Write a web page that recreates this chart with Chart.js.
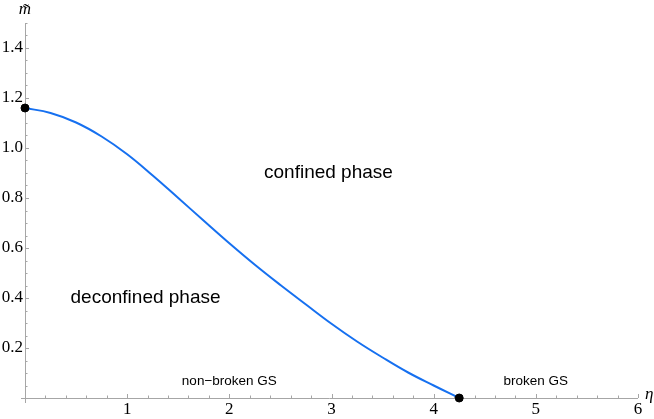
<!DOCTYPE html>
<html>
<head>
<meta charset="utf-8">
<script src="https://cdn.jsdelivr.net/npm/chart.js@4.4.1/dist/chart.umd.min.js"></script>
<style>
  html, body { margin: 0; padding: 0; background: #fff; }
  canvas { display: block; }
</style>
</head>
<body>
<canvas id="phase" width="654" height="419"></canvas>
<script>
// phase boundary m~(eta)
const eta = [0, 0.25, 0.5, 0.75, 1.0, 1.25, 1.5, 1.75, 2.0, 2.25, 2.5, 2.75, 3.0, 3.25, 3.5, 3.75, 4.0, 4.25];
const mTilde = [1.16, 1.14, 1.102, 1.046, 0.975, 0.89, 0.80, 0.709, 0.619, 0.533, 0.452, 0.374, 0.297, 0.226, 0.162, 0.102, 0.05, 0];

// end points of the boundary
const endEta = [0, 4.25];
const endM = [1.16, 0];

// tick labels
const xTickLabels = [1, 2, 3, 4, 5, 6];
const yTickLabels = [0.2, 0.4, 0.6, 0.8, 1.0, 1.2, 1.4];

// region labels [text, eta, m, fontSize]
const regionLabels = [
    ['confined phase', 2.97, 0.9, 19],
    ['deconfined phase', 1.18, 0.4, 19],
    ['non\u2212broken GS', 2.0, 0.068, 13.5],
    ['broken GS', 5.0, 0.068, 13.5],
];

const AXIS_GRAY = '#a6a6a6';
const SANS = '"Liberation Sans", Arial, sans-serif';
const SERIF = '"Liberation Serif", "Times New Roman", serif';

const mathematicaAxes = {
    id: 'mathematicaAxes',
    beforeDatasetsDraw(chart) {
        const { ctx, chartArea } = chart;
        const x = chart.scales.x;
        const y = chart.scales.y;
        const x0 = x.getPixelForValue(0);
        const y0 = y.getPixelForValue(0);
        ctx.save();
        ctx.strokeStyle = AXIS_GRAY;
        ctx.lineWidth = 1;
        ctx.beginPath();
        ctx.moveTo(x0 - 4, y0 + 0.5);
        ctx.lineTo(chartArea.right, y0 + 0.5);
        ctx.moveTo(x0 + 0.5, y0 + 5);
        ctx.lineTo(x0 + 0.5, chartArea.top);
        // ticks on eta axis, every 0.2, major on integers
        for (let i = 1; i <= 30; i++) {
            const px = Math.round(x.getPixelForValue(i * 0.2)) + 0.5;
            const len = i % 5 === 0 ? 4 : 2.5;
            ctx.moveTo(px, y0);
            ctx.lineTo(px, y0 - len);
        }
        // ticks on m axis, every 0.05, major on 0.2
        for (let i = 1; i <= 30; i++) {
            const py = Math.round(y.getPixelForValue(i * 0.05)) + 0.5;
            const len = i % 4 === 0 ? 4 : 2.5;
            ctx.moveTo(x0, py);
            ctx.lineTo(x0 + len, py);
        }
        ctx.stroke();
        ctx.restore();
    },
    afterDraw(chart) {
        const { ctx, chartArea } = chart;
        const x = chart.scales.x;
        const y = chart.scales.y;
        ctx.save();
        ctx.fillStyle = '#000';
        ctx.textAlign = 'center';
        ctx.textBaseline = 'middle';
        regionLabels.forEach(([text, ex, my, size]) => {
            ctx.font = size + 'px ' + SANS;
            ctx.fillText(text, x.getPixelForValue(ex), y.getPixelForValue(my));
        });
        ctx.font = 'italic 17px ' + SERIF;
        ctx.fillText('m\u0303', x.getPixelForValue(0), chartArea.top - 13);
        ctx.textAlign = 'left';
        ctx.fillText('\u03b7', chartArea.right + 7, y.getPixelForValue(0) - 3);
        ctx.restore();
    },
};

new Chart(document.getElementById('phase'), {
    type: 'scatter',
    data: {
        datasets: [
            {
                data: eta.map((e, i) => ({ x: e, y: mTilde[i] })),
                showLine: true,
                borderColor: 'rgb(22,112,240)',
                borderWidth: 2,
                pointRadius: 0,
                tension: 0.4,
                order: 2,
            },
            {
                data: endEta.map((e, i) => ({ x: e, y: endM[i] })),
                backgroundColor: '#000',
                borderColor: '#000',
                pointRadius: 4,
                clip: false,
                order: 1,
            },
        ],
    },
    plugins: [mathematicaAxes],
    options: {
        responsive: false,
        animation: false,
        devicePixelRatio: 1,
        layout: {
            padding: { top: 23, right: 16, left: 0, bottom: 0 },
        },
        scales: {
            x: {
                type: 'linear',
                min: 0,
                max: 6,
                afterFit: s => { s.height = 21; },
                afterBuildTicks: s => { s.ticks = xTickLabels.map(v => ({ value: v })); },
                grid: { display: false, drawTicks: false },
                border: { display: false },
                ticks: {
                    padding: 1,
                    maxRotation: 0,
                    autoSkip: false,
                    color: '#000',
                    font: { family: SERIF, size: 17 },
                    callback: v => String(v),
                },
            },
            y: {
                type: 'linear',
                min: 0,
                max: 1.5,
                afterFit: s => { s.width = 25; },
                afterBuildTicks: s => { s.ticks = yTickLabels.map(v => ({ value: v })); },
                grid: { display: false, drawTicks: false },
                border: { display: false },
                ticks: {
                    padding: 2,
                    autoSkip: false,
                    color: '#000',
                    font: { family: SERIF, size: 17 },
                    callback: v => v.toFixed(1),
                },
            },
        },
        plugins: {
            legend: { display: false },
            tooltip: { enabled: false },
        },
    },
});
</script>
</body>
</html>
